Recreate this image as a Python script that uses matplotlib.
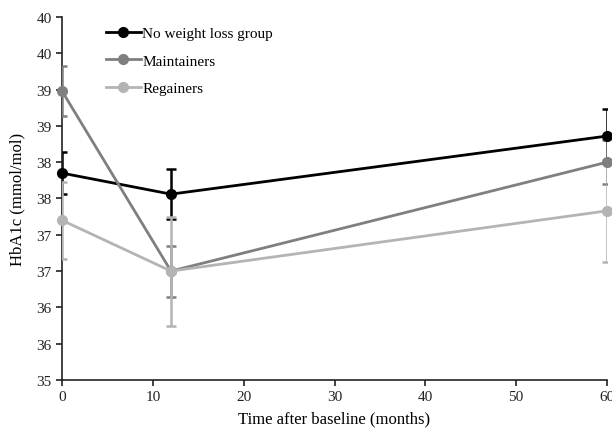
import matplotlib
matplotlib.use("Agg")
import matplotlib.pyplot as plt
from matplotlib.ticker import FixedLocator, FixedFormatter

months = [0, 12, 60]
no_loss = [37.85, 37.56, 38.36]
no_loss_err = [0.29, 0.34, 0.37]
maintainers = [38.98, 36.50, 38.00]
maintainers_err = [0.35, 0.35, 0.30]
regainers = [37.20, 36.50, 37.33]
regainers_err = [0.53, 0.75, 0.70]

y_ticks = [35, 35.5, 36, 36.5, 37, 37.5, 38, 38.5, 39, 39.5, 40]
y_labels = ["35", "36", "36", "37", "37", "38", "38", "39", "39", "40", "40"]

plt.rcParams['font.family'] = ['Liberation Serif', 'DejaVu Serif']

fig = plt.figure(figsize=(6.12, 4.31), dpi=100)
ax = fig.add_axes([62 / 612, 50 / 431, 545 / 612, 363 / 431])

series = [
    (no_loss, no_loss_err, "#000000", "No weight loss group"),
    (maintainers, maintainers_err, "#7f7f7f", "Maintainers"),
    (regainers, regainers_err, "#b4b4b4", "Regainers"),
]

for i, (vals, err, col, name) in enumerate(series):
    ax.errorbar(months, vals, yerr=err, fmt="none", ecolor=col,
                elinewidth=1.8, capsize=3.5, capthick=1.8, zorder=2 + i)
    ax.plot(months, vals, color=col, lw=2.0, marker="o", ms=7,
            label=name, zorder=5 + i, clip_on=False)

ax.set_xlim(0, 60)
ax.set_ylim(35, 40)
ax.set_xticks([0, 10, 20, 30, 40, 50, 60])
ax.yaxis.set_major_locator(FixedLocator(y_ticks))
ax.yaxis.set_major_formatter(FixedFormatter(y_labels))

for s in ["top", "right"]:
    ax.spines[s].set_visible(False)
for s in ["left", "bottom"]:
    ax.spines[s].set_linewidth(1.2)
    ax.spines[s].set_color("#222222")
ax.tick_params(direction="out", length=4, width=1.2, labelsize=11, colors="#222222")

ax.set_xlabel("Time after baseline (months)", fontsize=12, labelpad=5)
ax.set_ylabel("HbA1c (mmol/mol)", fontsize=12, labelpad=8)

ax.legend(loc="upper left", bbox_to_anchor=(0.056, 1.012), frameon=False,
          fontsize=11, handlelength=2.25, handletextpad=0.12, labelspacing=0.9)

fig.savefig("out.png", dpi=100)
